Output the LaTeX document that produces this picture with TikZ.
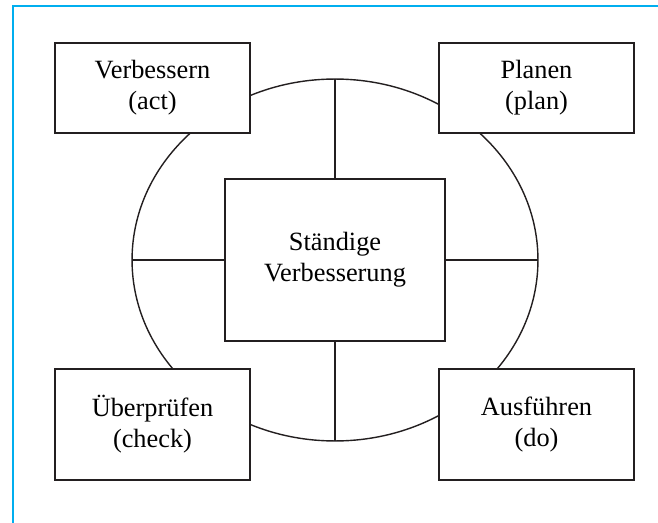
\documentclass[tikz,border=0pt]{standalone}
\usepackage{fontspec}
\setmainfont{Liberation Serif}
\definecolor{frameblue}{RGB}{0,174,239}
\definecolor{ink}{RGB}{35,31,32}

\begin{document}
\begin{tikzpicture}[x=0.02cm, y=-0.02cm
    , every node/.style={font=\fontsize{15}{17.6}\selectfont, align=center}
    , phase/.style={draw=ink, fill=white, line width=0.8pt, minimum width=3.9cm}
    ]

    \useasboundingbox (0,0) rectangle (658,523);
    % the blue frame round the page
    \draw[frameblue, line width=1.2pt] (13,523) -- (13,6) -- (658,6);

    %% Here we go: the ring first, then the boxes on top of it.
    \coordinate (ringc) at (335,260);
    \draw[ink, line width=0.8pt] (ringc) ellipse [x radius=4.06cm, y radius=3.62cm];
    \coordinate (ringn) at (335,79);
    \coordinate (rings) at (335,441);
    \coordinate (ringw) at (132,260);
    \coordinate (ringe) at (538,260);

    \node[phase, minimum width=4.4cm, minimum height=3.24cm] (mitte) at (ringc)
        {Ständige\\Verbesserung};

    % the four spokes
    \draw[ink, line width=0.8pt] (ringn) -- (mitte.north);
    \draw[ink, line width=0.8pt] (mitte.south) -- (rings);
    \draw[ink, line width=0.8pt] (ringw) -- (mitte.west);
    \draw[ink, line width=0.8pt] (mitte.east) -- (ringe);

    \node[phase, minimum height=1.8cm] (act) at (152.5,88) {Verbessern\\(act)};
    \node[phase, minimum height=1.8cm] (plan) at (536.5,88) {Planen\\(plan)};
    \node[phase, minimum height=2.22cm] (check) at (152.5,424.5) {Überprüfen\\(check)};
    \node[phase, minimum height=2.22cm] (do) at (536.5,424.5) {Ausführen\\(do)};
%%    \node[phase] (ziel) at (335,500) {};

\end{tikzpicture}
\end{document}
